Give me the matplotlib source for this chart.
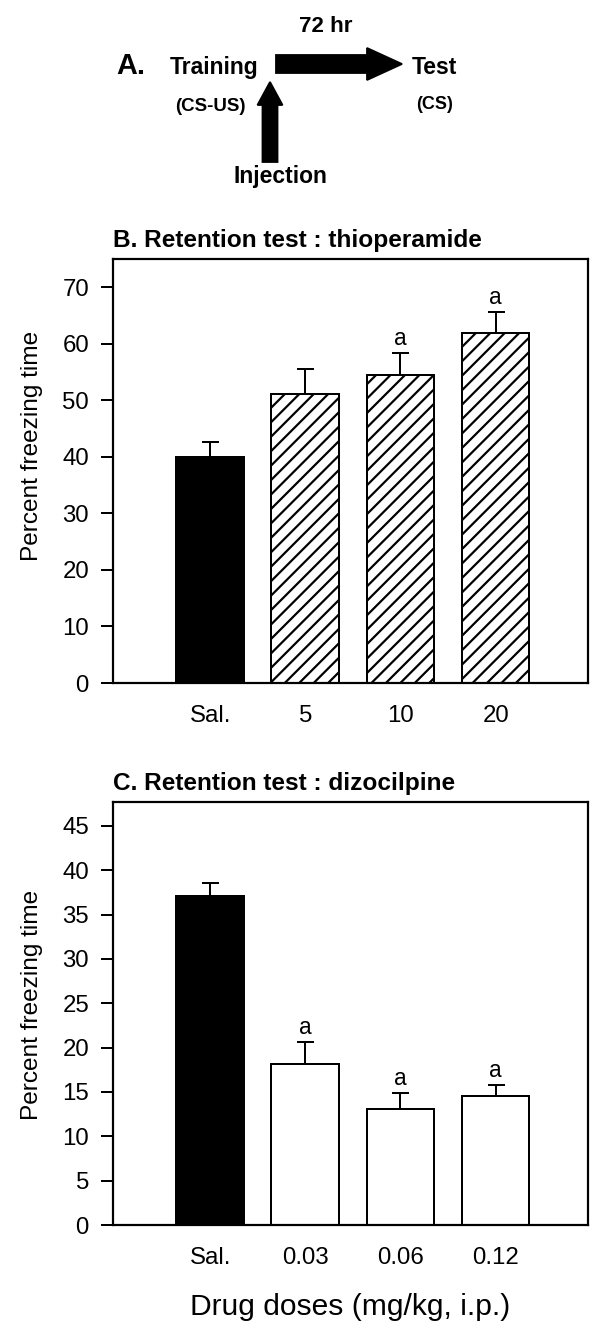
import matplotlib
matplotlib.use("Agg")
import matplotlib.pyplot as plt
from matplotlib.patches import FancyArrow
import numpy as np

# data
b_labels = ['Sal.', '5', '10', '20']
b_means = [40.0, 51.1, 54.5, 61.9]
b_sem = [2.7, 4.5, 3.8, 3.8]
b_sig = [False, False, True, True]

c_labels = ['Sal.', '0.03', '0.06', '0.12']
c_means = [37.1, 18.2, 13.1, 14.5]
c_sem = [1.5, 2.4, 1.8, 1.3]
c_sig = [False, True, True, True]

W, H = 592, 1322
DPI = 130


def pt(px):
    # pixels -> points at the figure dpi
    return px * 72.0 / DPI


plt.rcParams['font.family'] = ['Liberation Sans', 'DejaVu Sans']
plt.rcParams['hatch.linewidth'] = pt(2.2)
plt.rcParams['axes.linewidth'] = pt(2.2)

fig = plt.figure(figsize=(W / DPI, H / DPI), dpi=DPI)


def px_rect(l, t, r, b):
    return [l / W, 1 - b / H, (r - l) / W, (b - t) / H]


# ---- panel A: schematic ----
ax_a = fig.add_axes(px_rect(0, 0, W, 200))
ax_a.set_xlim(0, W)
ax_a.set_ylim(200, 0)
ax_a.axis('off')
ax_a.add_patch(FancyArrow(276, 64, 126, 0, width=18, head_width=32, head_length=35,
                          length_includes_head=True, color='black'))
ax_a.add_patch(FancyArrow(270, 162, 0, -80, width=15, head_width=25, head_length=23,
                          length_includes_head=True, color='black'))
ax_a.text(116, 74, 'A.', fontsize=16, fontweight='bold', va='baseline', ha='left')
ax_a.text(170, 74, 'Training', fontsize=12.7, fontweight='bold', va='baseline', ha='left')
ax_a.text(210, 111, '(CS-US)', fontsize=10.4, fontweight='bold', va='baseline', ha='center')
ax_a.text(326, 32, '72 hr', fontsize=12.4, fontweight='bold', va='baseline', ha='center')
ax_a.text(412, 74, 'Test', fontsize=12.7, fontweight='bold', va='baseline', ha='left')
ax_a.text(435, 109, '(CS)', fontsize=10, fontweight='bold', va='baseline', ha='center')
ax_a.text(280, 183.5, 'Injection', fontsize=12.7, fontweight='bold', va='baseline', ha='center')


def bar_panel(ax, labels, means, sem, sig, title, ymax, yticks, hatch):
    x = np.arange(len(labels))
    faces = ['black'] + ['white'] * (len(labels) - 1)
    hatches = [None] + [hatch] * (len(labels) - 1)
    ax.errorbar(x, means, yerr=[np.zeros(len(sem)), sem], fmt='none', ecolor='black',
                elinewidth=pt(2), capsize=pt(8.5), capthick=pt(2), zorder=1)
    bars = ax.bar(x, means, width=0.71, color=faces, edgecolor='black',
                  linewidth=pt(2), zorder=2)
    for b, h in zip(bars, hatches):
        if h:
            b.set_hatch(h)
    for xi, m, s, flag in zip(x, means, sem, sig):
        if flag:
            ax.annotate('a', xy=(xi, m + s), xytext=(0, pt(3)), textcoords='offset points',
                        ha='center', va='bottom', fontsize=12.5)
    ax.set_xlim(-1.02, 3.97)
    ax.set_ylim(0, ymax)
    ax.set_yticks(yticks)
    ax.set_xticks(x)
    ax.set_xticklabels(labels)
    ax.tick_params(axis='y', length=pt(12), width=pt(2), pad=pt(12), labelsize=13.3)
    ax.tick_params(axis='x', length=0, pad=pt(22), labelsize=13.3)
    ax.set_ylabel('Percent freezing time', fontsize=13.5)
    ax.annotate(title, xy=(0, 1), xycoords='axes fraction', xytext=(0, pt(12)),
                textcoords='offset points', ha='left', va='baseline',
                fontsize=13.5, fontweight='bold')


ax_b = fig.add_axes(px_rect(113, 259, 588, 683))
bar_panel(ax_b, b_labels, b_means, b_sem, b_sig, 'B. Retention test : thioperamide',
          75, range(0, 71, 10), '///')
ax_b.yaxis.set_label_coords(-0.147, 0.56)

ax_c = fig.add_axes(px_rect(113, 802, 588, 1225))
bar_panel(ax_c, c_labels, c_means, c_sem, c_sig, 'C. Retention test : dizocilpine',
          47.7, range(0, 46, 5), None)
ax_c.yaxis.set_label_coords(-0.147, 0.52)
ax_c.set_xlabel('Drug doses (mg/kg, i.p.)', fontsize=16.6, labelpad=pt(24))

fig.savefig('out.png', dpi=DPI)
